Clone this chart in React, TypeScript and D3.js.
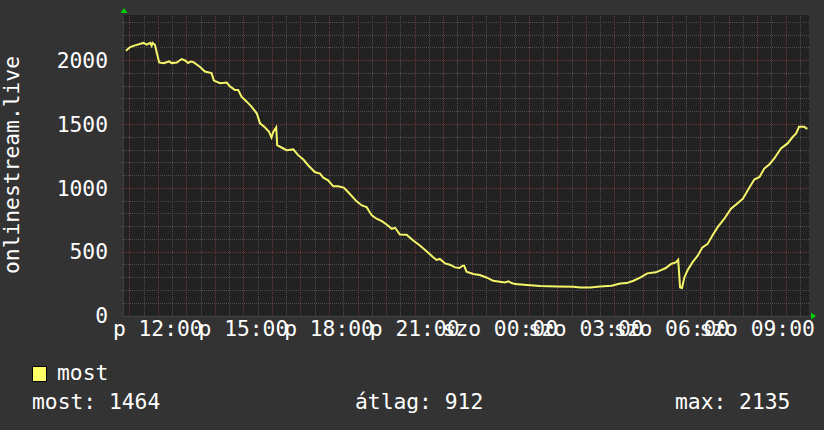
import React from 'react';
import * as d3 from 'd3';

// onlinestream.live listeners, Friday 10:49 -> Saturday 10:49
const sampleTimes = [
  '10:53', '11:02', '11:12', '11:30', '11:37', '11:44', '11:47', '11:49', '11:54', '11:58',
  '12:03', '12:12', '12:24', '12:29', '12:40', '12:50', '12:57', '13:04', '13:09', '13:15',
  '13:29', '13:39', '13:53', '13:58', '14:11', '14:25', '14:32', '14:42', '14:49', '14:56',
  '15:07', '15:17', '15:28', '15:35', '15:45', '15:54', '15:59', '16:03', '16:09', '16:11',
  '16:20', '16:31', '16:45', '16:55', '17:06', '17:16', '17:30', '17:41', '17:48', '17:58',
  '18:09', '18:19', '18:31', '18:40', '18:58', '19:09', '19:19', '19:30', '19:40', '19:51',
  '20:01', '20:12', '20:19', '20:29', '20:43', '20:57', '21:11', '21:25', '21:39', '21:46',
  '21:53', '22:04', '22:14', '22:25', '22:34', '22:41', '22:44', '22:49', '23:03', '23:17',
  '23:31', '23:45', '23:59', '00:10', '00:17', '00:24', '00:31', '00:56', '01:24', '01:59',
  '02:34', '02:48', '03:09', '03:30', '03:54', '04:12', '04:26', '04:40', '04:55', '05:09',
  '05:27', '05:38', '05:48', '05:59', '06:09', '06:14', '06:18', '06:22', '06:27', '06:34',
  '06:44', '06:55', '07:05', '07:16', '07:26', '07:37', '07:51', '08:05', '08:19', '08:30',
  '08:40', '08:54', '09:05', '09:15', '09:26', '09:36', '09:50', '10:04', '10:15', '10:22',
  '10:28', '10:39', '10:43', '10:46',
];
const sampleValues = [
  2074, 2103, 2116, 2135, 2121, 2135, 2113, 2135, 2121, 2056,
  1982, 1977, 1990, 1977, 1982, 2009, 1998, 1977, 1990, 1985,
  1946, 1911, 1899, 1840, 1820, 1825, 1793, 1767, 1767, 1714,
  1675, 1636, 1584, 1505, 1474, 1439, 1395, 1439, 1474, 1334,
  1316, 1295, 1301, 1256, 1222, 1177, 1124, 1112, 1080, 1059,
  1012, 1012, 1002, 967, 894, 862, 849, 784, 758, 739,
  713, 679, 687, 634, 632, 587, 548, 503, 456, 435,
  443, 408, 398, 377, 372, 390, 390, 343, 325, 317,
  298, 272, 264, 259, 267, 254, 246, 238, 231, 227,
  225, 220, 220, 227, 233, 251, 254, 272, 298, 330,
  338, 356, 372, 404, 416, 437, 220, 215, 298, 356,
  416, 469, 534, 561, 626, 692, 758, 836, 880, 915,
  980, 1065, 1085, 1151, 1185, 1230, 1308, 1348, 1400, 1426,
  1478, 1478, 1466, 1464,
];

const xTickLabels = ['p 12:00', 'p 15:00', 'p 18:00', 'p 21:00', 'szo 00:00', 'szo 03:00', 'szo 06:00', 'szo 09:00'];
const yTickValues = [0, 500, 1000, 1500, 2000];
const yMinorStep = 100;
const yMax = 2350;

const axisTitle = 'onlinestream.live';
const legendSeries = ['most'];
const legendStats = ['most: 1464', 'átlag: 912', 'max: 2135'];

const W = 824;
const H = 430;
const plot = { left: 124, right: 809, top: 15.5, bottom: 315.5 };
const FONT = '"DejaVu Sans Mono", monospace';
const dayIndex: Record<string, number> = { p: 0, szo: 1 };

const at = (day: number, hm: string) => {
  const [h, m] = hm.split(':').map(Number);
  return new Date(2024, 0, 5 + day, h, m);
};

// samples roll over to Saturday once the clock wraps past midnight
const points: { t: Date; v: number }[] = [];
{
  let day = 0;
  let prev = -1;
  sampleTimes.forEach((hm, i) => {
    const [h, m] = hm.split(':').map(Number);
    const mins = h * 60 + m;
    if (mins < prev) day += 1;
    prev = mins;
    points.push({ t: at(day, hm), v: sampleValues[i] });
  });
}

const x = d3.scaleTime().domain([at(0, '10:49'), at(1, '10:49')]).range([plot.left, plot.right]);
const y = d3.scaleLinear().domain([0, yMax]).range([plot.bottom, plot.top]);

const px = (v: number) => Math.round(v) + 0.5;

export default function App() {
  const hours = x.ticks(d3.timeHour.every(1)!);
  const halfHours = x.ticks(d3.timeMinute.every(30)!).filter(d => d.getMinutes() === 30);
  const yMinor = d3.range(yMinorStep, yMax, yMinorStep).filter(v => v % 500 !== 0);
  const yMajor = yTickValues.filter(v => v > 0);

  const line = d3.line<{ t: Date; v: number }>()
    .x(d => x(d.t))
    .y(d => y(d.v));

  const minor = '#4e4e4e';
  const major = '#743737';

  return (
    <div style={{ position: 'absolute', left: 0, top: 0 }}>
      <svg width={W} height={H} style={{ display: 'block', background: '#333333' }}>
        <rect x={plot.left} y={plot.top - 0.5} width={plot.right - plot.left} height={plot.bottom - plot.top + 0.5} fill="#222222" />

        <g shapeRendering="crispEdges" strokeDasharray="1,1" strokeWidth={1}>
          {halfHours.map((d, i) => (
            <line key={'hm' + i} x1={px(x(d))} x2={px(x(d))} y1={plot.top} y2={plot.bottom} stroke={minor} />
          ))}
          {yMinor.map(v => (
            <line key={'ym' + v} x1={plot.left - 2} x2={plot.right + 1} y1={px(y(v))} y2={px(y(v))} stroke={minor} />
          ))}
          {hours.map((d, i) => (
            <line key={'hM' + i} x1={px(x(d))} x2={px(x(d))} y1={plot.top - 2} y2={plot.bottom + 2} stroke={major} />
          ))}
          {yMajor.map(v => (
            <line key={'yM' + v} x1={plot.left - 2} x2={plot.right + 1} y1={px(y(v))} y2={px(y(v))} stroke={major} />
          ))}
        </g>

        <g shapeRendering="crispEdges" stroke="#3e3e3e">
          <line x1={plot.left - 0.5} x2={plot.left - 0.5} y1={plot.top} y2={plot.bottom + 1} />
          <line x1={plot.left - 2} x2={plot.right + 2} y1={plot.bottom + 0.5} y2={plot.bottom + 0.5} />
        </g>

        <path d={line(points) ?? ''} fill="none" stroke="#f6f66a" strokeWidth={2} strokeLinejoin="miter" />

        {/* axis arrows */}
        <path d={`M${plot.left - 3.5},${plot.top - 2.5} L${plot.left + 3.5},${plot.top - 2.5} L${plot.left},${plot.top - 7.5} Z`} fill="#00d000" />
        <path d={`M${plot.right + 2},${plot.bottom - 3} L${plot.right + 2},${plot.bottom + 4} L${plot.right + 7},${plot.bottom + 0.5} Z`} fill="#00d000" />

        <g fontFamily={FONT} fontSize={21.3} fill="#ffffff">
          {yTickValues.map(v => (
            <text key={'yt' + v} x={108} y={y(v)} dy="0.36em" textAnchor="end">{v}</text>
          ))}
          {xTickLabels.map(lbl => {
            const [day, hm] = lbl.split(' ');
            return (
              <text key={lbl} x={x(at(dayIndex[day], hm))} y={336} textAnchor="middle">{lbl}</text>
            );
          })}
          <text transform="translate(19,165) rotate(-90)" textAnchor="middle">{axisTitle}</text>

          {legendSeries.map((s, i) => (
            <g key={s}>
              <rect x={32.5 + i * 120} y={366.5} width={14} height={15} fill="#ffff66" stroke="#000" strokeWidth={1} />
              <text x={57} y={380}>{s}</text>
            </g>
          ))}
          {legendStats.map((s, i) => (
            <text key={s} x={[32, 355, 675][i]} y={409}>{s}</text>
          ))}
        </g>
      </svg>
    </div>
  );
}
